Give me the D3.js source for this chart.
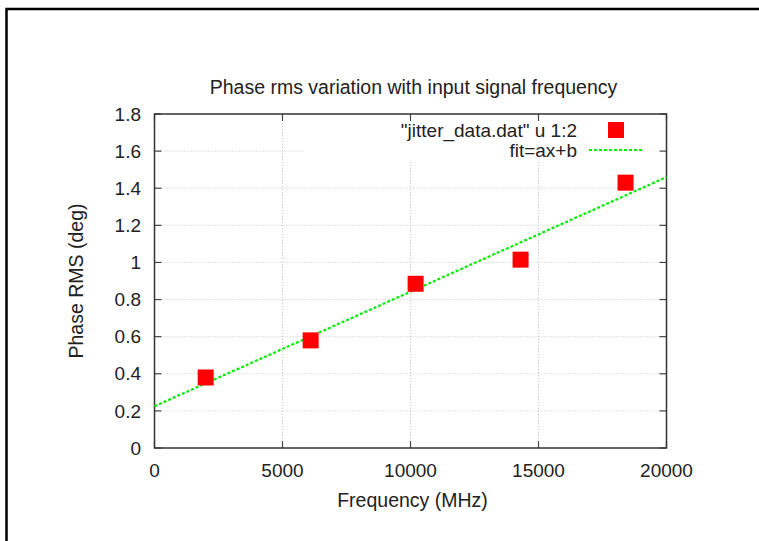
<!DOCTYPE html>
<html><head><meta charset="utf-8">
<script src="https://cdn.jsdelivr.net/npm/d3@7"></script>
<style>html,body{margin:0;background:#fff;overflow:hidden}svg{display:block}text{font-family:"Liberation Sans",Arial,sans-serif;fill:#222}</style>
</head><body>
<script>
const titleText = "Phase rms variation with input signal frequency";
const xLabel = "Frequency (MHz)";
const yLabel = "Phase RMS (deg)";
const freqMHz = [2000, 6100, 10200, 14300, 18400];
const phaseRms = [0.38, 0.58, 0.885, 1.015, 1.43];
const fitFreq = [0, 20000];
const fitPhase = [0.225, 1.46];
const xTicks = [0, 5000, 10000, 15000, 20000];
const yTicks = [0, 0.2, 0.4, 0.6, 0.8, 1, 1.2, 1.4, 1.6, 1.8];
const legendLabels = ['"jitter_data.dat" u 1:2', 'fit=ax+b'];

const W = 759, H = 541;
const svg = d3.select("body").append("svg").attr("width", W).attr("height", H);
const L = 154.5, R = 666.5, T = 114, B = 448;
const x = d3.scaleLinear().domain([0, 20000]).range([L, R]);
const y = d3.scaleLinear().domain([0, 1.8]).range([B, T]);

// outer frame (top and left edges only visible)
svg.append("path").attr("d", `M6.5,${H + 5}V9H${W + 5}`)
  .attr("fill", "none").attr("stroke", "#000").attr("stroke-width", 2.5);

// grid
const grid = svg.append("g");
grid.selectAll("line.gx").data(xTicks.slice(1, -1)).join("line")
  .attr("x1", d => x(d)).attr("x2", d => x(d)).attr("y1", B).attr("y2", T)
  .attr("stroke", "#c8c8c8").attr("stroke-width", 1).attr("stroke-dasharray", "1,2");
grid.selectAll("line.gy").data(yTicks.slice(1, -1)).join("line")
  .attr("y1", d => y(d)).attr("y2", d => y(d)).attr("x1", L).attr("x2", R)
  .attr("stroke", "#c8c8c8").attr("stroke-width", 1).attr("stroke-dasharray", "1,2");
// key area blanks grid
svg.append("rect").attr("x", 304).attr("y", T).attr("width", R - 304).attr("height", 46).attr("fill", "#fff");

// axes with mirrored inward ticks
const ax = svg.append("g");
const tickLen = 7, tc = "#444";
ax.selectAll("line.xb").data(xTicks).join("line")
  .attr("x1", d => x(d)).attr("x2", d => x(d)).attr("y1", B).attr("y2", B - tickLen).attr("stroke", tc).attr("stroke-width", 1.2);
ax.selectAll("line.xt").data(xTicks).join("line")
  .attr("x1", d => x(d)).attr("x2", d => x(d)).attr("y1", T).attr("y2", T + tickLen).attr("stroke", tc).attr("stroke-width", 1.2);
ax.selectAll("line.yl").data(yTicks).join("line")
  .attr("y1", d => y(d)).attr("y2", d => y(d)).attr("x1", L).attr("x2", L + tickLen).attr("stroke", tc).attr("stroke-width", 1.2);
ax.selectAll("line.yr").data(yTicks).join("line")
  .attr("y1", d => y(d)).attr("y2", d => y(d)).attr("x1", R).attr("x2", R - tickLen).attr("stroke", tc).attr("stroke-width", 1.2);
svg.append("rect").attr("x", L).attr("y", T).attr("width", R - L).attr("height", B - T)
  .attr("fill", "none").attr("stroke", "#333").attr("stroke-width", 1.5);

// tick labels
const fs = 19.5, tfs = 19;
svg.selectAll("text.xt").data(xTicks).join("text")
  .attr("x", d => x(d)).attr("y", 477).attr("text-anchor", "middle").attr("font-size", tfs).text(d => d);
svg.selectAll("text.yt").data(yTicks).join("text")
  .attr("x", 141).attr("y", d => y(d)).attr("dy", "0.35em").attr("text-anchor", "end").attr("font-size", tfs).text(d => d3.format("")(+d.toFixed(1)));

// titles
svg.append("text").attr("x", (L + R) / 2 + 3).attr("y", 94).attr("text-anchor", "middle").attr("font-size", fs).text(titleText);
svg.append("text").attr("x", (L + R) / 2 + 2).attr("y", 507).attr("text-anchor", "middle").attr("font-size", fs).text(xLabel);
svg.append("text").attr("transform", `translate(83,${(T + B) / 2}) rotate(-90)`).attr("text-anchor", "middle").attr("font-size", fs).text(yLabel);

// fit line
const line = d3.line().x(d => x(d[0])).y(d => y(d[1]));
svg.append("path").datum(fitFreq.map((f, i) => [f, fitPhase[i]])).attr("d", line)
  .attr("fill", "none").attr("stroke", "#00ee00").attr("stroke-width", 2.2).attr("stroke-dasharray", "3,2");

// points
const sq = 16;
svg.selectAll("rect.pt").data(freqMHz).join("rect")
  .attr("x", (d) => x(d) - sq / 2).attr("y", (d, i) => y(phaseRms[i]) - sq / 2)
  .attr("width", sq).attr("height", sq).attr("fill", "#ff0000");

// legend
const lfs = 19;
svg.append("text").attr("x", 577).attr("y", 136.5).attr("text-anchor", "end").attr("font-size", lfs).text(legendLabels[0]);
svg.append("rect").attr("x", 616 - sq / 2).attr("y", 130 - sq / 2).attr("width", sq).attr("height", sq).attr("fill", "#ff0000");
svg.append("text").attr("x", 577).attr("y", 156.5).attr("text-anchor", "end").attr("font-size", lfs).text(legendLabels[1]);
svg.append("line").attr("x1", 589).attr("x2", 642).attr("y1", 150).attr("y2", 150)
  .attr("stroke", "#00ee00").attr("stroke-width", 2.2).attr("stroke-dasharray", "3,2");
</script>
</body></html>
